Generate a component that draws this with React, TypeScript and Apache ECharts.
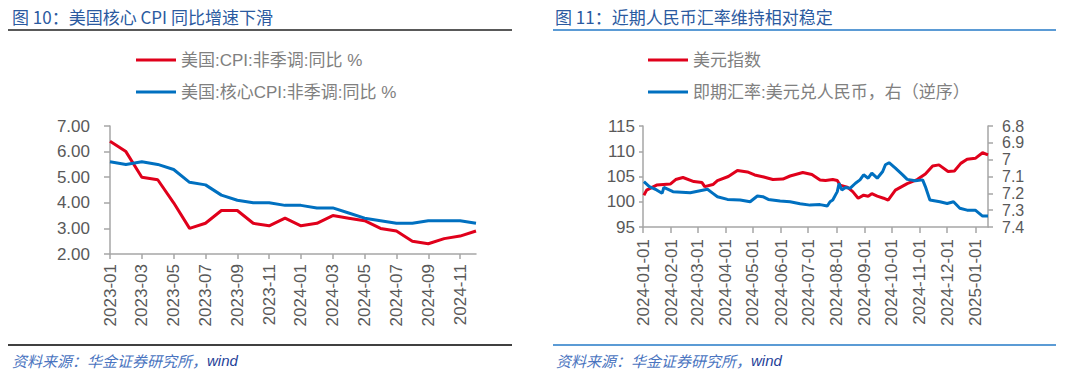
import React, { useEffect, useRef } from "react";
import * as echarts from "echarts";

// ---------- Figure 10 data ----------
const cpiMonths = [
  "2023-01", "2023-02", "2023-03", "2023-04", "2023-05", "2023-06",
  "2023-07", "2023-08", "2023-09", "2023-10", "2023-11", "2023-12",
  "2024-01", "2024-02", "2024-03", "2024-04", "2024-05", "2024-06",
  "2024-07", "2024-08", "2024-09", "2024-10", "2024-11", "2024-12",
];
const cpiYoY = [
  6.4, 6.0, 5.0, 4.9, 4.0, 3.0, 3.2, 3.7, 3.7, 3.2, 3.1, 3.4,
  3.1, 3.2, 3.5, 3.4, 3.3, 3.0, 2.9, 2.5, 2.4, 2.6, 2.7, 2.9,
];
const coreCpiYoY = [
  5.6, 5.5, 5.6, 5.5, 5.3, 4.8, 4.7, 4.3, 4.1, 4.0, 4.0, 3.9,
  3.9, 3.8, 3.8, 3.6, 3.4, 3.3, 3.2, 3.2, 3.3, 3.3, 3.3, 3.2,
];
const cpiYTicks = [2, 7, 1]; // min, max, interval

// ---------- Figure 11 data ----------
const dxyDates = [
  "2024-01-02", "2024-01-05", "2024-01-16", "2024-01-31", "2024-02-06", "2024-02-14",
  "2024-02-26", "2024-03-06", "2024-03-09", "2024-03-18", "2024-03-23", "2024-04-04",
  "2024-04-14", "2024-04-25", "2024-05-03", "2024-05-13", "2024-05-23", "2024-06-03",
  "2024-06-11", "2024-06-25", "2024-07-05", "2024-07-14", "2024-07-20", "2024-07-28",
  "2024-08-02", "2024-08-05", "2024-08-13", "2024-08-19", "2024-08-25", "2024-08-31",
  "2024-09-05", "2024-09-09", "2024-09-15", "2024-09-22", "2024-09-27", "2024-10-05",
  "2024-10-18", "2024-10-29", "2024-11-07", "2024-11-15", "2024-11-22", "2024-12-02",
  "2024-12-09", "2024-12-16", "2024-12-23", "2025-01-01", "2025-01-09", "2025-01-15",
];
const dxyValues = [
  101.3, 102.3, 103.3, 103.5, 104.4, 104.8,
  104.0, 103.8, 103.0, 103.4, 104.2, 105.0,
  106.2, 105.9, 105.3, 104.9, 104.4, 104.5,
  105.1, 105.8, 105.4, 104.3, 104.2, 104.4,
  104.2, 103.3, 102.9, 102.0, 100.7, 101.3,
  101.1, 101.6, 101.1, 100.7, 100.3, 102.3,
  103.6, 104.4, 105.5, 107.1, 107.3, 106.0,
  106.1, 107.6, 108.4, 108.6, 109.7, 109.3,
];
const cnyDates = [
  "2024-01-02", "2024-01-08", "2024-01-16", "2024-01-22", "2024-01-24", "2024-02-03",
  "2024-02-22", "2024-03-12", "2024-03-18", "2024-03-23", "2024-04-03", "2024-04-17",
  "2024-04-28", "2024-05-06", "2024-05-12", "2024-05-18", "2024-05-31", "2024-06-11",
  "2024-06-22", "2024-07-03", "2024-07-14", "2024-07-22", "2024-07-25", "2024-07-28",
  "2024-08-02", "2024-08-04", "2024-08-07", "2024-08-11", "2024-08-16", "2024-08-22",
  "2024-08-27", "2024-08-31", "2024-09-05", "2024-09-09", "2024-09-15", "2024-09-21",
  "2024-09-24", "2024-09-28", "2024-10-05", "2024-10-13", "2024-10-18", "2024-10-27",
  "2024-11-04", "2024-11-07", "2024-11-12", "2024-11-23", "2024-12-01", "2024-12-08",
  "2024-12-15", "2024-12-23", "2025-01-01", "2025-01-09", "2025-01-15",
];
const cnyValues = [
  7.131, 7.16, 7.18, 7.2, 7.165, 7.19,
  7.196, 7.176, 7.2, 7.22, 7.236, 7.24,
  7.25, 7.216, 7.22, 7.236, 7.246, 7.25,
  7.262, 7.27, 7.267, 7.275, 7.25, 7.24,
  7.19, 7.14, 7.18, 7.165, 7.17, 7.14,
  7.12, 7.09, 7.11, 7.08, 7.11, 7.07,
  7.03, 7.018, 7.05, 7.09, 7.117, 7.125,
  7.12, 7.16, 7.24, 7.25, 7.26, 7.25,
  7.289, 7.3, 7.3, 7.335, 7.335,
];
const dxyYTicks = [95, 115, 5];
const cnyYTicks = [6.8, 7.4, 0.1];

const RED = "#E0001B";
const BLUE = "#0070C0";
const LABEL = "#595959";
const AXIS = "#A6A6A6";
const FONT = "'Liberation Sans', Arial, 'Noto Sans CJK SC', sans-serif";
const CJK = "'Noto Sans CJK SC', 'Liberation Sans', sans-serif";
const DAY = 86400000;

const sourceText = (left: number) => ({
  type: "text", left, top: 353,
  style: {
    text: "{a|资料来源：华金证券研究所，}{b|wind}",
    rich: {
      a: { fill: "#4A74C0", font: `italic 15px ${CJK}` },
      b: { fill: "#1F3F99", font: `italic 15px 'Liberation Sans', Arial, sans-serif` },
    },
  },
});

export default function App() {
  const ref = useRef<HTMLDivElement>(null);

  useEffect(() => {
    document.body.style.margin = "0";
    const chart = echarts.init(ref.current!, null, { renderer: "svg" });

    const axisLine = { show: true, lineStyle: { color: AXIS, width: 1.5 } };
    const axisTick = (len: number) => ({ show: true, length: len, lineStyle: { color: AXIS, width: 1.5 } });

    const option: any = {
      animation: false,
      backgroundColor: "#ffffff",
      graphic: [
        {
          type: "text", left: 12, top: 8,
          style: { text: "图 10：美国核心 CPI 同比增速下滑", fill: "#2B5AA0", font: `17px ${CJK}` },
        },
        {
          type: "text", left: 555, top: 8,
          style: { text: "图 11：近期人民币汇率维持相对稳定", fill: "#2B5AA0", font: `17px ${CJK}` },
        },
        { type: "line", shape: { x1: 8, y1: 30, x2: 512, y2: 30 }, style: { stroke: "#595959", lineWidth: 2 } },
        { type: "line", shape: { x1: 553, y1: 30, x2: 1056, y2: 30 }, style: { stroke: "#5B9BD5", lineWidth: 2 } },
        { type: "line", shape: { x1: 8, y1: 345, x2: 512, y2: 345 }, style: { stroke: "#404040", lineWidth: 2 } },
        { type: "line", shape: { x1: 553, y1: 345, x2: 1056, y2: 345 }, style: { stroke: "#5B9BD5", lineWidth: 2 } },
        sourceText(12),
        sourceText(556),
      ],
      legend: [
        {
          left: 131, top: 46, orient: "vertical", itemWidth: 40, itemHeight: 3, itemGap: 14, icon: "rect",
          data: ["美国:CPI:非季调:同比 %", "美国:核心CPI:非季调:同比 %"],
          textStyle: { fontSize: 17, color: "#808080", fontFamily: FONT, lineHeight: 18 },
        },
        {
          left: 643, top: 46, orient: "vertical", itemWidth: 40, itemHeight: 3, itemGap: 14, icon: "rect",
          data: ["美元指数", "即期汇率:美元兑人民币，右（逆序）"],
          textStyle: { fontSize: 17, color: "#808080", fontFamily: FONT, lineHeight: 18 },
        },
      ],
      grid: [
        { left: 110, top: 126, width: 366, height: 128, containLabel: false },
        { left: 643, top: 126, width: 345, height: 101, containLabel: false },
      ],
      xAxis: [
        {
          gridIndex: 0, type: "category", data: cpiMonths, boundaryGap: false,
          axisLine, axisTick: { ...axisTick(5), interval: 1 },
          axisLabel: { interval: 1, rotate: 90, margin: 10, fontSize: 17, color: LABEL, fontFamily: FONT },
          splitLine: { show: false },
        },
        {
          gridIndex: 1, type: "time",
          min: new Date("2024-01-01T00:00:00").getTime(),
          max: new Date("2025-01-15T00:00:00").getTime(),
          splitNumber: 13, maxInterval: 31 * DAY, minInterval: 28 * DAY,
          axisLine, axisTick: axisTick(6),
          axisLabel: {
            rotate: 90, margin: 12, fontSize: 17, color: LABEL, fontFamily: FONT, hideOverlap: false,
            showMinLabel: true, showMaxLabel: false,
            formatter: (v: number) => echarts.time.format(v, "{yyyy}-{MM}-{dd}", false),
          },
          splitLine: { show: false },
        },
      ],
      yAxis: [
        {
          gridIndex: 0, type: "value", min: cpiYTicks[0], max: cpiYTicks[1], interval: cpiYTicks[2],
          axisLine, axisTick: axisTick(6),
          axisLabel: { margin: 20, fontSize: 17, color: LABEL, fontFamily: FONT, formatter: (v: number) => v.toFixed(2) },
          splitLine: { show: false },
        },
        {
          gridIndex: 1, type: "value", min: dxyYTicks[0], max: dxyYTicks[1], interval: dxyYTicks[2],
          axisLine, axisTick: axisTick(4),
          axisLabel: { margin: 8, fontSize: 17, color: LABEL, fontFamily: FONT },
          splitLine: { show: false },
        },
        {
          gridIndex: 1, type: "value", position: "right", inverse: true,
          min: cnyYTicks[0], max: cnyYTicks[1], interval: cnyYTicks[2],
          axisLine, axisTick: axisTick(5),
          axisLabel: { margin: 14, fontSize: 16, lineHeight: 16, color: LABEL, fontFamily: FONT },
          splitLine: { show: false },
        },
      ],
      series: [
        {
          name: "美国:CPI:非季调:同比 %", type: "line", xAxisIndex: 0, yAxisIndex: 0,
          data: cpiYoY, showSymbol: false, color: RED, lineStyle: { width: 3, color: RED },
        },
        {
          name: "美国:核心CPI:非季调:同比 %", type: "line", xAxisIndex: 0, yAxisIndex: 0,
          data: coreCpiYoY, showSymbol: false, color: BLUE, lineStyle: { width: 3, color: BLUE },
        },
        {
          name: "美元指数", type: "line", xAxisIndex: 1, yAxisIndex: 1,
          data: dxyDates.map((d, i) => [d, dxyValues[i]]),
          showSymbol: false, color: RED, lineStyle: { width: 3, color: RED },
        },
        {
          name: "即期汇率:美元兑人民币，右（逆序）", type: "line", xAxisIndex: 1, yAxisIndex: 2,
          data: cnyDates.map((d, i) => [d, cnyValues[i]]),
          showSymbol: false, color: BLUE, lineStyle: { width: 3, color: BLUE },
        },
      ],
    };

    chart.setOption(option);
    return () => chart.dispose();
  }, []);

  return (
    <div
      ref={ref}
      style={{ position: "absolute", left: 0, top: 0, width: 1080, height: 378 }}
    />
  );
}
